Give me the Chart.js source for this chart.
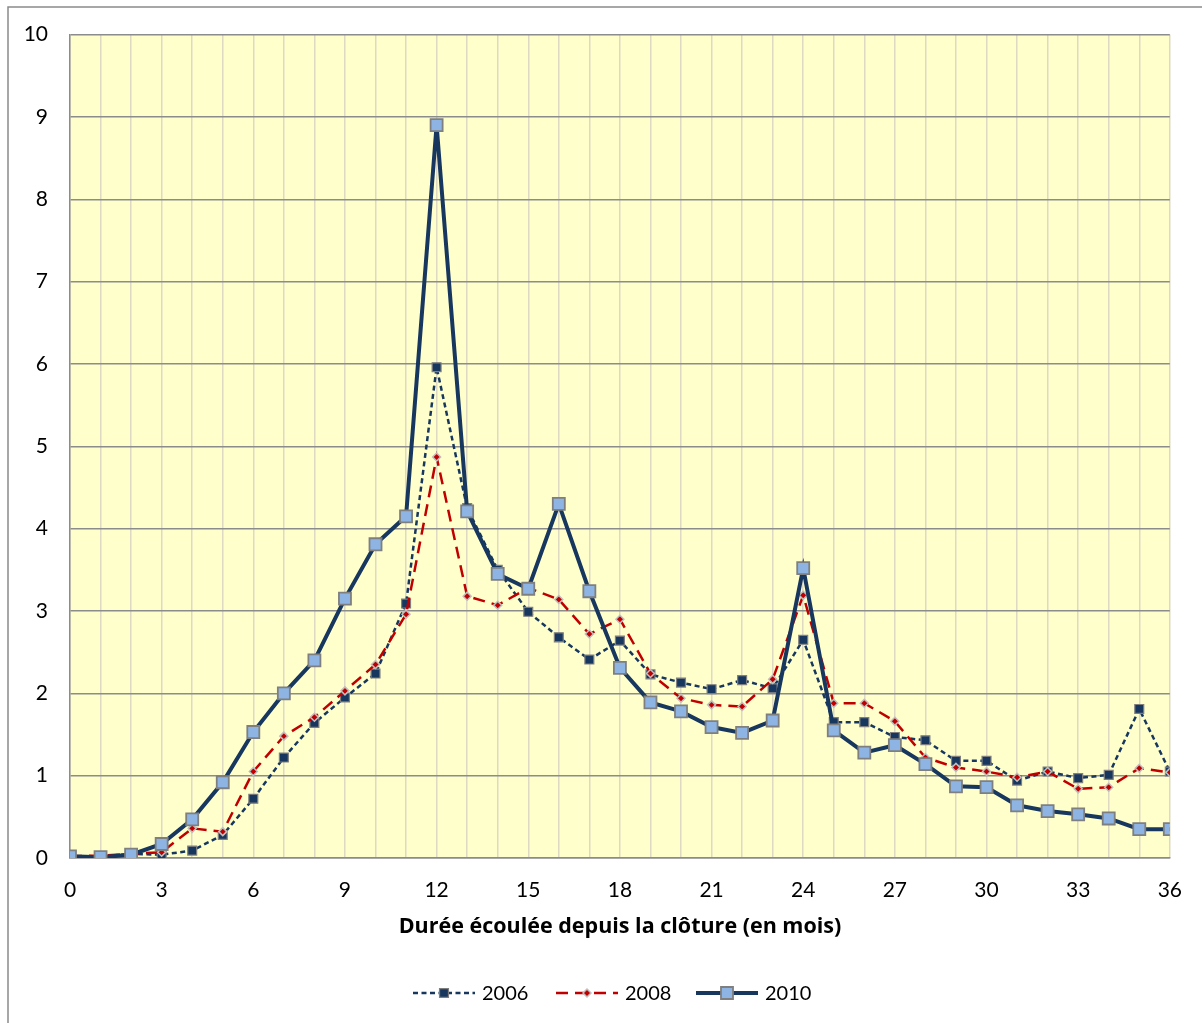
<!DOCTYPE html>
<html>
<head>
<meta charset="utf-8">
<script src="https://cdn.jsdelivr.net/npm/chart.js@4.4.1/dist/chart.umd.min.js"></script>
<style>
  html, body { margin: 0; padding: 0; background: #ffffff; }
  #cont { width: 1202px; height: 1023px; }
</style>
</head>
<body>
<div id="cont"><canvas id="graphicFirst" width="1202" height="1023"></canvas></div>
<script>
// Courbes par mois depuis la clôture - 2006 / 2008 / 2010

const months = [0,1,2,3,4,5,6,7,8,9,10,11,12,13,14,15,16,17,18,19,20,21,22,23,24,25,26,27,28,29,30,31,32,33,34,35,36];

const serie2006 = [0.02,0.02,0.05,0.04,0.09,0.28,0.72,1.22,1.64,1.95,2.24,3.09,5.96,4.25,3.50,2.99,2.68,2.41,2.64,2.23,2.13,2.05,2.16,2.06,2.65,1.65,1.65,1.47,1.43,1.18,1.18,0.94,1.05,0.97,1.01,1.81,1.05];

const serie2008 = [0.02,0.03,0.05,0.07,0.36,0.32,1.05,1.48,1.71,2.03,2.35,2.96,4.87,3.18,3.07,3.28,3.14,2.72,2.90,2.24,1.94,1.86,1.84,2.17,3.19,1.88,1.88,1.66,1.22,1.10,1.05,0.98,1.05,0.84,0.86,1.09,1.04];

const serie2010 = [0.02,0.01,0.04,0.17,0.47,0.92,1.53,2.00,2.40,3.15,3.81,4.15,8.90,4.21,3.45,3.27,4.30,3.24,2.31,1.89,1.78,1.59,1.52,1.67,3.52,1.55,1.28,1.37,1.14,0.87,0.86,0.64,0.57,0.53,0.48,0.35,0.35];

const yTicks = [0,1,2,3,4,5,6,7,8,9,10];
const seriesNames = ['2006','2008','2010'];
const xTitle = 'Durée écoulée depuis la clôture (en mois)';

const FONT = 'Lato, "Open Sans", sans-serif';
const FONT_TITLE = '"Open Sans", Lato, sans-serif';

function toPoints(arr){
  return arr.map(function(v, i){ return {x: months[i], y: v}; });
}

//--- plugin: fond jaune, cadre, titre de l'axe, légende
const decoPlugin = {
  id: 'deco',
  beforeDraw: function(chart){
    var ctx = chart.ctx;
    var a = chart.chartArea;
    ctx.save();
    ctx.fillStyle = '#ffffff';
    ctx.fillRect(0, 0, chart.width, chart.height);
    ctx.strokeStyle = '#8a8a8a';
    ctx.lineWidth = 1.5;
    ctx.strokeRect(8, 7, chart.width + 20, chart.height + 20);
    ctx.fillStyle = '#FFFFCC';
    ctx.fillRect(a.left, a.top, a.right - a.left, a.bottom - a.top);
    ctx.restore();
  },
  afterDraw: function(chart){
    var ctx = chart.ctx;
    ctx.save();
    // titre axe x
    ctx.fillStyle = '#000000';
    ctx.font = 'bold 21.5px ' + FONT_TITLE;
    ctx.textAlign = 'center';
    ctx.textBaseline = 'middle';
    ctx.fillText(xTitle, 620, 927);

    // légende
    var y = 993;
    var starts = [413, 556, 696];
    ctx.font = '20px ' + FONT;
    ctx.textAlign = 'left';
    chart.data.datasets.forEach(function(ds, i){
      var x0 = starts[i];
      var x1 = x0 + 62;
      ctx.save();
      ctx.strokeStyle = ds.borderColor;
      ctx.lineWidth = ds.borderWidth;
      ctx.setLineDash(ds.borderDash || []);
      ctx.beginPath();
      ctx.moveTo(x0, y);
      ctx.lineTo(x1, y);
      ctx.stroke();
      ctx.restore();
      ctx.save();
      ctx.fillStyle = ds.pointBackgroundColor;
      ctx.strokeStyle = ds.pointBorderColor;
      ctx.lineWidth = ds.pointBorderWidth;
      Chart.helpers.drawPoint(ctx, {
        pointStyle: ds.pointStyle,
        radius: ds.pointRadius,
        borderWidth: ds.pointBorderWidth
      }, (x0 + x1) / 2, y);
      ctx.restore();
      ctx.fillStyle = '#000000';
      ctx.fillText(ds.label, x1 + 7, y + 1);
    });
    ctx.restore();
  }
};

let chart1;
function drawFirstElement(){
  var ctx = document.getElementById('graphicFirst').getContext('2d');
  if (chart1) {
    chart1.destroy();
  }
  chart1 = new Chart(ctx, {
    type: 'line',
    data: {
      datasets: [
        {
          label: seriesNames[0],
          data: toPoints(serie2006),
          borderColor: '#17375E',
          borderWidth: 2.5,
          borderDash: [5, 3.5],
          pointStyle: 'rect',
          pointRadius: 6.3,
          pointBackgroundColor: '#17375E',
          pointBorderColor: '#7F7F7F',
          pointBorderWidth: 1.2,
          tension: 0,
          order: 2
        },
        {
          label: seriesNames[1],
          data: toPoints(serie2008),
          borderColor: '#C00000',
          borderWidth: 2.5,
          borderDash: [12, 7],
          pointStyle: 'rectRot',
          pointRadius: 4,
          pointBackgroundColor: '#C00000',
          pointBorderColor: '#BFBFBF',
          pointBorderWidth: 1.5,
          tension: 0,
          order: 1
        },
        {
          label: seriesNames[2],
          data: toPoints(serie2010),
          borderColor: '#17375E',
          borderWidth: 4,
          pointStyle: 'rect',
          pointRadius: 8.5,
          pointBackgroundColor: '#8DB4E2',
          pointBorderColor: '#7F7F7F',
          pointBorderWidth: 1.8,
          tension: 0,
          order: 0
        }
      ]
    },
    options: {
      responsive: false,
      animation: false,
      devicePixelRatio: 1,
      layout: {
        padding: { top: 33, right: 32, left: 0, bottom: 0 }
      },
      plugins: {
        legend: { display: false },
        tooltip: { enabled: false },
        title: { display: false }
      },
      scales: {
        x: {
          type: 'linear',
          min: 0,
          max: 36,
          afterFit: function(scale){ scale.height = 165; },
          ticks: {
            stepSize: 1,
            autoSkip: false,
            maxRotation: 0,
            padding: 20,
            color: '#000000',
            font: { family: FONT, size: 21 },
            callback: function(v){ return v % 3 === 0 ? String(v) : ''; }
          },
          grid: {
            color: '#DDD9C3',
            lineWidth: 1.5,
            drawTicks: false
          },
          border: { display: true, color: '#8C8C8C', width: 1.5 }
        },
        y: {
          min: 0,
          max: 10,
          afterFit: function(scale){ scale.width = 70; },
          afterBuildTicks: function(scale){
            scale.ticks = yTicks.map(function(v){ return {value: v}; });
          },
          ticks: {
            padding: 22,
            color: '#000000',
            font: { family: FONT, size: 21 }
          },
          grid: {
            color: '#8C8C8C',
            lineWidth: 1.5,
            drawTicks: false
          },
          border: { display: true, color: '#8C8C8C', width: 1.5 }
        }
      }
    },
    plugins: [decoPlugin]
  });
}

window.onload = function(){
  drawFirstElement();
};
</script>
</body>
</html>
